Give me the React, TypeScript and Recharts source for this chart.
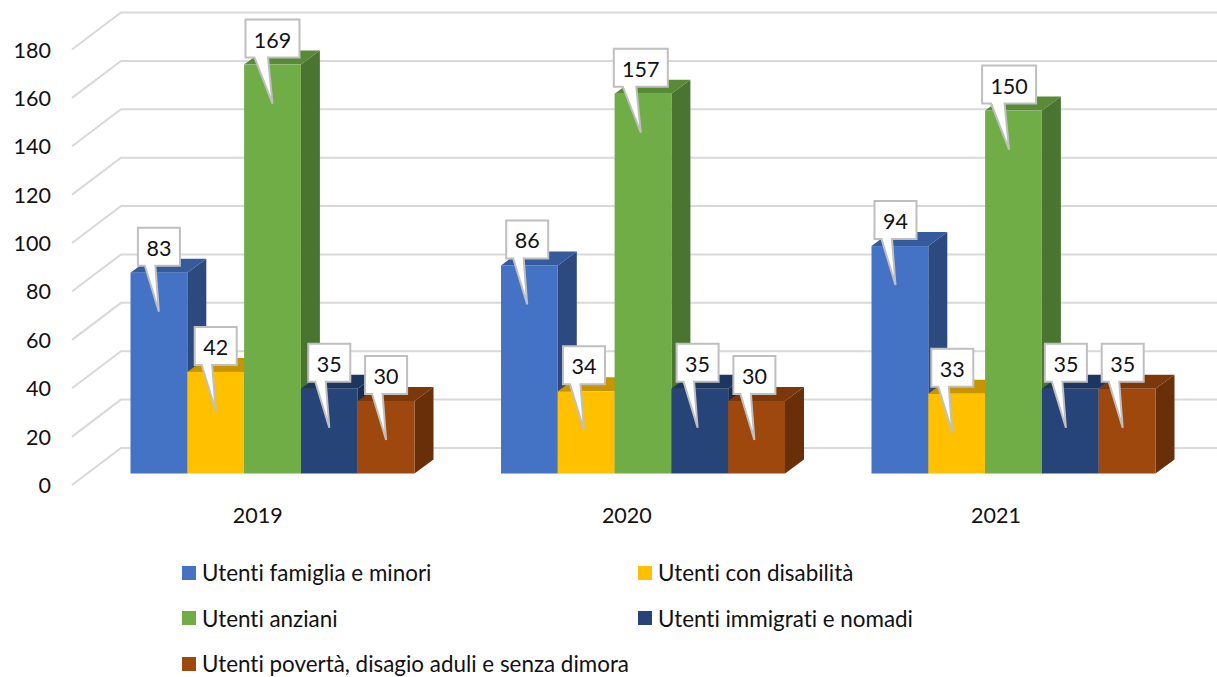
import React from 'react';
import { BarChart, Bar, XAxis, YAxis, CartesianGrid, LabelList, Legend } from 'recharts';

const years = ['2019', '2020', '2021'];
const yTicks = [0, 20, 40, 60, 80, 100, 120, 140, 160, 180];

const famiglia = [83, 86, 94];
const disabilita = [42, 34, 33];
const anziani = [169, 157, 150];
const immigrati = [35, 35, 35];
const poverta = [30, 30, 35];

const seriesNames = [
  'Utenti famiglia e minori',
  'Utenti con disabilità',
  'Utenti anziani',
  'Utenti immigrati e nomadi',
  'Utenti povertà, disagio aduli e senza dimora',
];
const seriesValues = [famiglia, disabilita, anziani, immigrati, poverta];
const frontColors = ['#4472C4', '#FFC000', '#70AD47', '#264478', '#9E480E'];
const topColors = ['#365B9D', '#C69500', '#588A38', '#1E365F', '#7C380B'];
const sideColors = ['#2C4A80', '#A67C00', '#4A7530', '#192D50', '#682F09'];

const data = years.map((year, i) => {
  const row: any = { year };
  seriesNames.forEach((name, s) => {
    row[name] = seriesValues[s][i];
  });
  return row;
});

const FONT = 'Lato, Carlito, sans-serif';
const TEXT = '#111111';
const DEPTH_X = 19;
const DEPTH_Y = 14;
const noLig = { fontVariantLigatures: 'none' } as React.CSSProperties;

// excel style 3d box: front, top and right side
function Box3D(props: any) {
  const { x, y, width, height, index, s } = props;
  const r = x + width;
  const b = y + height;
  return (
    <g>
      <polygon points={`${r},${y} ${r + DEPTH_X},${y - DEPTH_Y} ${r + DEPTH_X},${b - DEPTH_Y} ${r},${b}`} fill={sideColors[s]} />
      <polygon points={`${x},${y} ${x + DEPTH_X},${y - DEPTH_Y} ${r + DEPTH_X},${y - DEPTH_Y} ${r},${y}`} fill={topColors[s]} />
      <rect key={index} x={x} y={y} width={width} height={height} fill={frontColors[s]} />
    </g>
  );
}

// wedge callout with the value in it, later years sit a little further left
function Callout(props: any) {
  const { x, y, width, value, index } = props;
  const cx = x + width / 2 - index * 2.2;
  const w = String(value).length > 2 ? 54 : 42;
  const left = cx - w / 2;
  const right = cx + w / 2;
  const bottom = y - 7;
  const top = y - 45;
  const d = `M${left},${top} H${right} V${bottom} H${left + (w * 5) / 12} L${cx},${y + 39} L${left + w / 6},${bottom} H${left} Z`;
  return (
    <g>
      <path d={d} fill="#fff" stroke="#BFBFBF" strokeWidth={2} strokeLinejoin="miter" />
      <text x={cx} y={top + 28} textAnchor="middle" fontFamily={FONT} fontSize={21.5} fill={TEXT}>
        {value}
      </text>
    </g>
  );
}

// gridlines go along the side wall and then across the back wall
function WallLine(props: any) {
  const { y1 } = props;
  return (
    <polyline
      points={`72,${y1 + 11.5} 121,${y1 - 25.5} 1217,${y1 - 25.5}`}
      fill="none"
      stroke="#D9D9D9"
      strokeWidth={2}
    />
  );
}

function YTick(props: any) {
  const { y, payload } = props;
  return (
    <text x={51} y={y + 19.5} textAnchor="end" fontFamily={FONT} fontSize={21.5} fill={TEXT}>
      {payload.value}
    </text>
  );
}

function XTick(props: any) {
  const { x, payload, index } = props;
  return (
    <text x={x - 15 - index * 1.4} y={523} textAnchor="middle" fontFamily={FONT} fontSize={21.5} fill={TEXT}>
      {payload.value}
    </text>
  );
}

function LegendBlock() {
  return (
    <div style={{ display: 'flex', flexWrap: 'wrap', width: 912, fontFamily: FONT, fontSize: 22.4, color: TEXT, ...noLig }}>
      {seriesNames.map((name, s) => (
        <div key={name} style={{ width: 456, height: 45.5, display: 'flex', alignItems: 'center' }}>
          <span style={{ width: 14, height: 14, marginRight: 6, background: frontColors[s], flex: 'none' }} />
          <span style={{ whiteSpace: 'nowrap' }}>{name}</span>
        </div>
      ))}
    </div>
  );
}

export default function App() {
  return (
    <div style={{ position: 'absolute', left: 0, top: 0, width: 1217, height: 677, background: '#fff', overflow: 'hidden' }}>
      <BarChart
        width={1217}
        height={677}
        data={data}
        barGap={0}
        barSize={56.8}
        margin={{ top: 38, right: 18, bottom: 163.5, left: 0 }}
      >
        <CartesianGrid vertical={false} horizontal={(p: any) => <WallLine key={p.index} {...p} />} />
        <XAxis dataKey="year" height={40} axisLine={false} tickLine={false} tick={(p: any) => <XTick {...p} />} />
        <YAxis
          width={87.5}
          domain={[0, 180]}
          ticks={yTicks}
          axisLine={false}
          tickLine={false}
          tickMargin={0}
          tick={(p: any) => <YTick {...p} />}
        />
        <Legend
          layout="horizontal"
          align="center"
          verticalAlign="middle"
          wrapperStyle={{ left: 182, top: 550, width: 912 }}
          content={() => <LegendBlock />}
        />
        {seriesNames.map((name, s) => (
          <Bar
            key={name}
            dataKey={name}
            isAnimationActive={false}
            fill={frontColors[s]}
            shape={(p: any) => <Box3D {...p} s={s} />}
          >
            <LabelList dataKey={name} content={(p: any) => <Callout {...p} />} />
          </Bar>
        ))}
      </BarChart>
    </div>
  );
}
